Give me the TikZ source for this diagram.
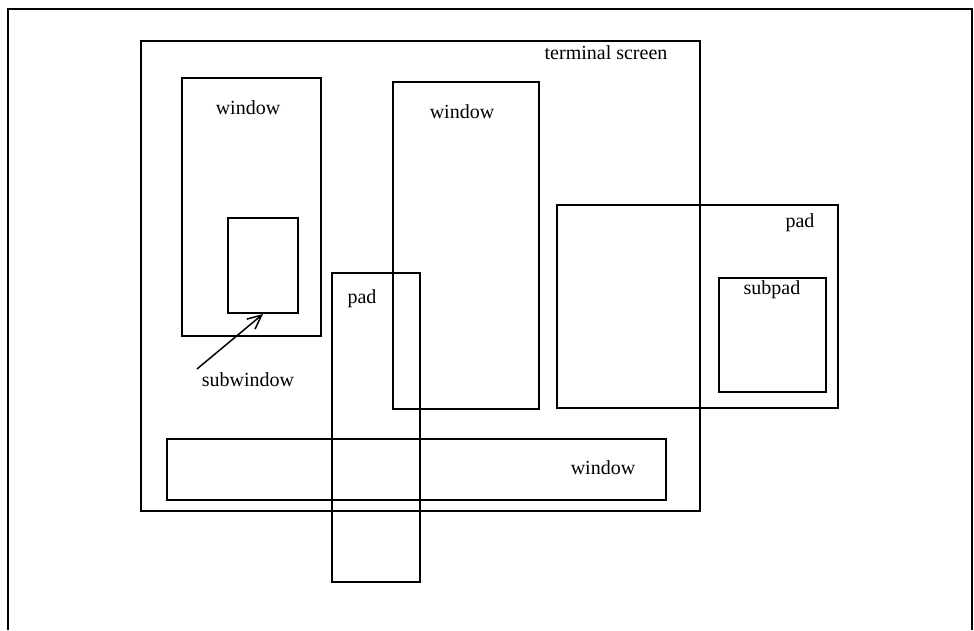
\documentclass[tikz,border=0pt]{standalone}
\usepackage{fontspec}
\setmainfont{Liberation Serif}
\usetikzlibrary{arrows.meta}
\begin{document}
\begin{tikzpicture}[x=1pt,y=-1pt,
  box/.style={draw=black,line width=1.5pt,inner sep=0pt,outer sep=0pt},
  lbl/.style={font=\fontsize{20}{24}\selectfont,inner sep=0pt},
  pointer/.style={line width=1.5pt,-{Straight Barb[length=14pt,width=13pt,line width=1.5pt]}}]
\useasboundingbox (0,0) rectangle (974,630);
% outer frame (open at bottom)
\coordinate (fbl) at (8,630);
\coordinate (ftl) at (8,9);
\coordinate (ftr) at (972,9);
\coordinate (fbr) at (972,630);
\draw[line width=1.8pt] (fbl) -- (ftl) -- (ftr) -- (fbr);
% boxes
\node[box,minimum width=559pt,minimum height=470pt] (term) at (420.5,276) {};
\node[box,minimum width=139pt,minimum height=258pt] (win1) at (251.5,207) {};
\node[box,minimum width=70pt,minimum height=95pt] (subwin) at (263,265.5) {};
\node[box,minimum width=146pt,minimum height=327pt] (win2) at (466,245.5) {};
\node[box,minimum width=88pt,minimum height=309pt] (padm) at (376,427.5) {};
\node[box,minimum width=281pt,minimum height=203pt] (padr) at (697.5,306.5) {};
\node[box,minimum width=107pt,minimum height=114pt] (subpad) at (772.5,335) {};
\node[box,minimum width=499pt,minimum height=61pt] (win3) at (416.5,469.5) {};
% labels
\node[lbl] (tlab) at (606,53) {terminal screen};
\node[lbl] (w1lab) at (248,108) {window};
\node[lbl] (w2lab) at (462,112) {window};
\node[lbl] (w3lab) at (603,468) {window};
\node[lbl] (pmlab) at (362,299) {pad};
\node[lbl] (prlab) at (800,223) {pad};
\node[lbl] (splab) at (772,290) {subpad};
\node[lbl] (swlab) at (248,380) {subwindow};
% pointer
\coordinate (ptail) at (197,369);
\coordinate (phead) at (263,314);
\draw[pointer] (ptail) -- (phead);
\end{tikzpicture}
\end{document}
